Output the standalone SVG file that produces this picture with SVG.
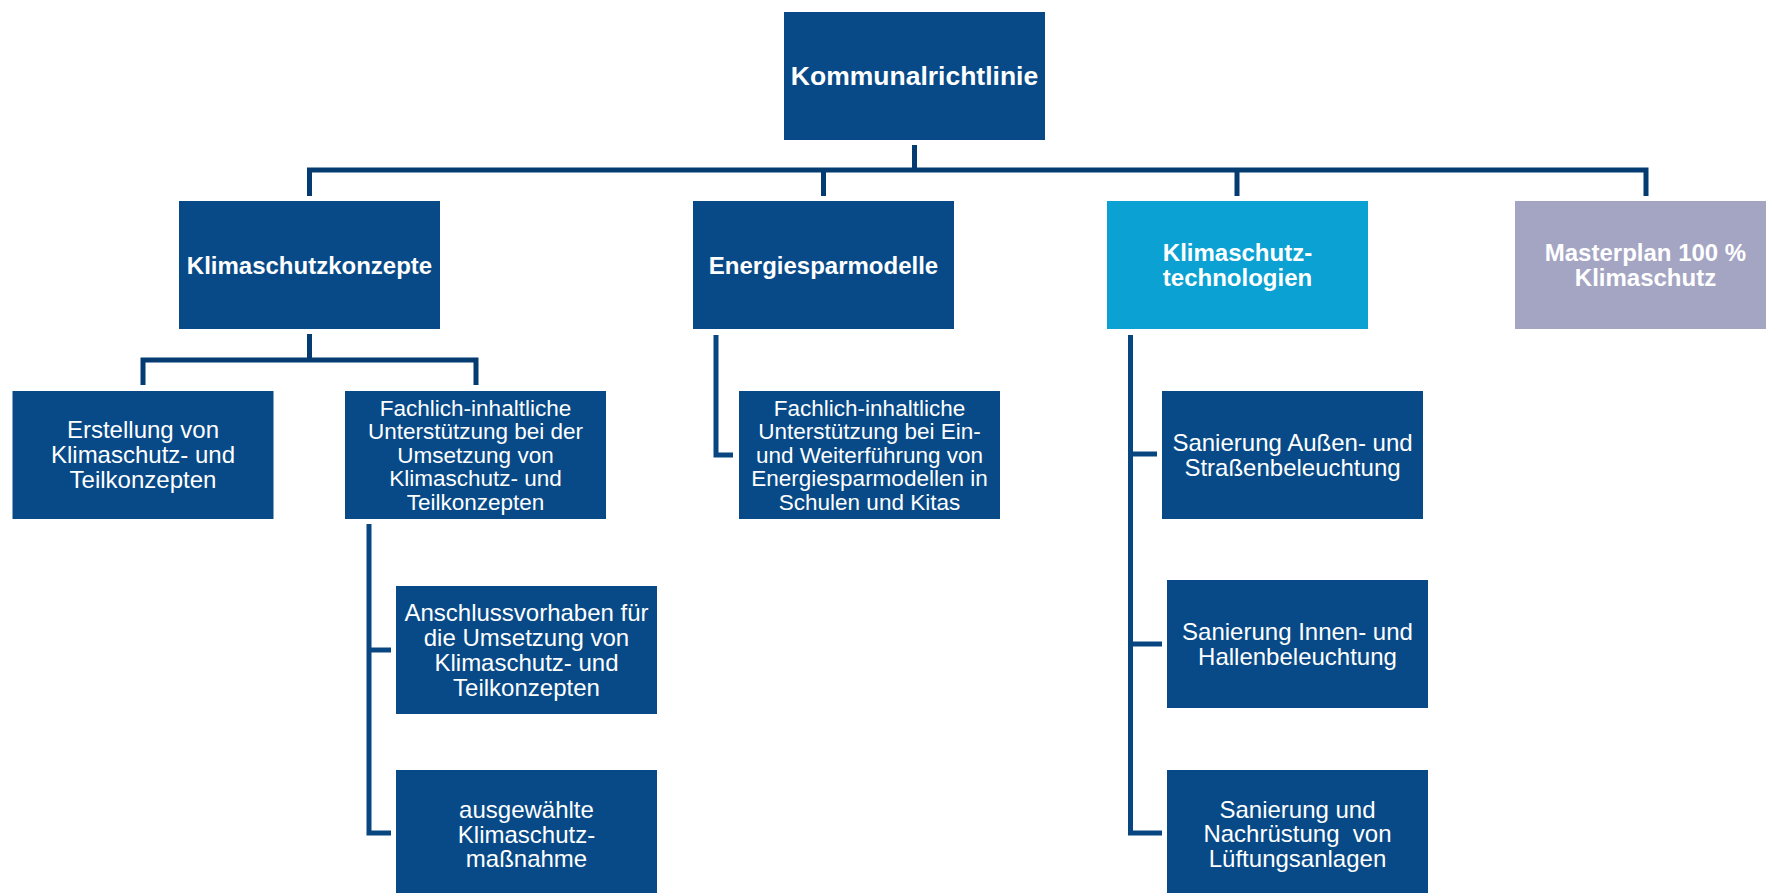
<svg xmlns="http://www.w3.org/2000/svg" width="1766" height="893" viewBox="0 0 1766 893">
<style>
.box{fill:#074A87}
.cyan{fill:#0BA1D2}
.lav{fill:#A4A5C3}
.t{fill:#FFFFFF;font-family:"Liberation Sans",Arial,sans-serif;font-size:24px;text-anchor:middle}
.s{font-size:22.5px}
.b{fill:#FFFFFF;font-family:"Liberation Sans",Arial,sans-serif;font-size:24px;font-weight:bold;text-anchor:middle}
.c{fill:none;stroke:#043B71;stroke-width:5;stroke-linejoin:miter}
.c2{fill:none;stroke:#074681;stroke-width:5;stroke-linejoin:miter}
</style>
<rect width="1766" height="893" fill="#FFFFFF"/>
<g id="connectors">
<path class="c" d="M914.5,145 V170"/>
<path class="c" d="M309.5,196 V170 H1646 V196"/>
<path class="c" d="M823.5,170 V196"/>
<path class="c" d="M1237,170 V196"/>
<path class="c" d="M309.5,334 V360"/>
<path class="c" d="M143,385 V360 H476 V385"/>
<path class="c2" d="M369,524 V833 H391"/>
<path class="c2" d="M369,650 H391"/>
<path class="c2" d="M716,335 V455 H733"/>
<path class="c2" d="M1130.5,335 V833 H1162"/>
<path class="c2" d="M1130.5,454 H1157"/>
<path class="c2" d="M1130.5,644 H1162"/>
</g>
<g id="kommunalrichtlinie">
<rect class="box" x="784" y="12" width="261" height="128"/>
<text class="b" x="914.5" y="84.5" style="font-size:26.5px">Kommunalrichtlinie</text>
</g>
<g id="klimaschutzkonzepte">
<rect class="box" x="179" y="201" width="261" height="128"/>
<text class="b" x="309.5" y="273.5">Klimaschutzkonzepte</text>
</g>
<g id="energiesparmodelle">
<rect class="box" x="693" y="201" width="261" height="128"/>
<text class="b" x="823.5" y="273.5">Energiesparmodelle</text>
</g>
<g id="klimaschutztechnologien">
<rect class="cyan" x="1107" y="201" width="261" height="128"/>
<text class="b" x="1237.5" y="260.5">Klimaschutz-</text>
<text class="b" x="1237.5" y="285.5">technologien</text>
</g>
<g id="masterplan">
<rect class="lav" x="1515" y="201" width="261" height="128"/>
<text class="b" x="1645.5" y="260.5">Masterplan 100 %</text>
<text class="b" x="1645.5" y="285.5">Klimaschutz</text>
</g>
<g id="erstellung">
<rect class="box" x="12.5" y="391" width="261" height="128"/>
<text class="t" x="143" y="437.5">Erstellung von</text>
<text class="t" x="143" y="462.5">Klimaschutz- und</text>
<text class="t" x="143" y="487.5">Teilkonzepten</text>
</g>
<g id="fachlich-umsetzung">
<rect class="box" x="345" y="391" width="261" height="128"/>
<text class="t s" x="475.5" y="415.5">Fachlich-inhaltliche</text>
<text class="t s" x="475.5" y="439">Unterstützung bei der</text>
<text class="t s" x="475.5" y="462.5">Umsetzung von</text>
<text class="t s" x="475.5" y="486">Klimaschutz- und</text>
<text class="t s" x="475.5" y="509.5">Teilkonzepten</text>
</g>
<g id="anschlussvorhaben">
<rect class="box" x="396" y="586" width="261" height="128"/>
<text class="t" x="526.5" y="620.5">Anschlussvorhaben für</text>
<text class="t" x="526.5" y="645.5">die Umsetzung von</text>
<text class="t" x="526.5" y="670.5">Klimaschutz- und</text>
<text class="t" x="526.5" y="695.5">Teilkonzepten</text>
</g>
<g id="ausgewaehlte">
<rect class="box" x="396" y="770" width="261" height="128"/>
<text class="t" x="526.5" y="818">ausgewählte</text>
<text class="t" x="526.5" y="842.5">Klimaschutz-</text>
<text class="t" x="526.5" y="867">maßnahme</text>
</g>
<g id="fachlich-energiespar">
<rect class="box" x="739" y="391" width="261" height="128"/>
<text class="t s" x="869.5" y="415.5">Fachlich-inhaltliche</text>
<text class="t s" x="869.5" y="439">Unterstützung bei Ein-</text>
<text class="t s" x="869.5" y="462.5">und Weiterführung von</text>
<text class="t s" x="869.5" y="486">Energiesparmodellen in</text>
<text class="t s" x="869.5" y="509.5">Schulen und Kitas</text>
</g>
<g id="aussenbeleuchtung">
<rect class="box" x="1162" y="391" width="261" height="128"/>
<text class="t" x="1292.5" y="451">Sanierung Außen- und</text>
<text class="t" x="1292.5" y="476">Straßenbeleuchtung</text>
</g>
<g id="innenbeleuchtung">
<rect class="box" x="1167" y="580" width="261" height="128"/>
<text class="t" x="1297.5" y="640">Sanierung Innen- und</text>
<text class="t" x="1297.5" y="664.5">Hallenbeleuchtung</text>
</g>
<g id="lueftungsanlagen">
<rect class="box" x="1167" y="770" width="261" height="128"/>
<text class="t" x="1297.5" y="817.5">Sanierung und</text>
<text class="t" x="1297.5" y="842" xml:space="preserve" style="white-space:pre">Nachrüstung  von</text>
<text class="t" x="1297.5" y="866.5">Lüftungsanlagen</text>
</g>
</svg>
